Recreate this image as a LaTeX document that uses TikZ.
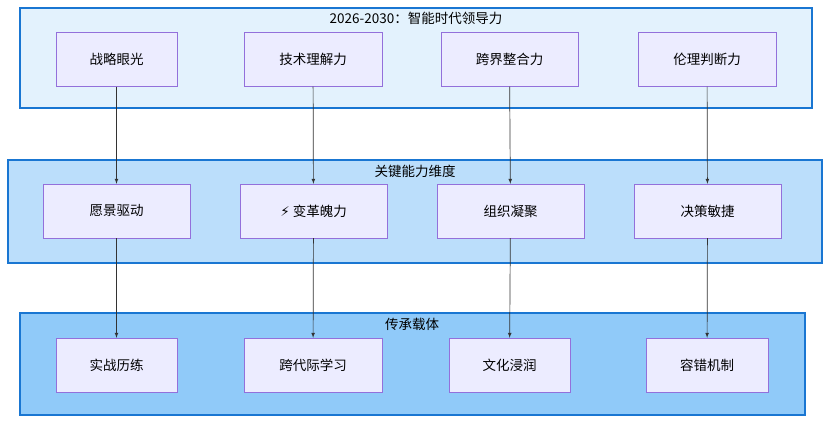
\documentclass[tikz,border=0pt]{standalone}
\usepackage{fontspec}
\setmainfont{Noto Sans CJK SC}
\newfontfamily\symfont{DejaVu Sans}
\usetikzlibrary{positioning}
\definecolor{boxfill}{HTML}{ECECFF}
\definecolor{boxline}{HTML}{9370DB}
\definecolor{grpline}{HTML}{1976D2}
\definecolor{topfill}{HTML}{E3F2FD}
\definecolor{midfill}{HTML}{BBDEFB}
\definecolor{botfill}{HTML}{90CAF9}
\tikzset{
  item/.style={draw=boxline, fill=boxfill, text=black, minimum height=54pt, inner sep=0pt, font=\fontsize{13.5}{13.5}\selectfont},
  group/.style={draw=grpline, line width=1.5pt},
  title/.style={font=\fontsize{13.5}{13.5}\selectfont, text=black},
  link/.style={draw=black!80, line width=0.7pt, -latex}
}
\begin{document}
\begin{tikzpicture}[x=1pt, y=-1pt]
\useasboundingbox (0,0) rectangle (832,428);

% groups
\draw [group, fill=topfill] (20,8) rectangle (812,108);
\node [title] (gtop) at (416,18) {2026-2030：智能时代领导力};
\draw [group, fill=midfill] (8,160) rectangle (822,263);
\node [title] (gmid) at (415,171) {关键能力维度};
\draw [group, fill=botfill] (20,313) rectangle (805,415);
\node [title] (gbot) at (412,324) {传承载体};

% top row
\node [item, minimum width=121pt] (vision) at (116.5,59.5) {战略眼光};
\node [item, minimum width=138pt] (tech) at (313,59.5) {技术理解力};
\node [item, minimum width=137pt] (cross) at (509.5,59.5) {跨界整合力};
\node [item, minimum width=138pt] (ethic) at (707,59.5) {伦理判断力};

% middle row
\node [item, minimum width=147pt] (drive) at (116.5,211) {愿景驱动};
\node [item, minimum width=147pt] (change) at (313.5,211) {{\symfont ⚡} 变革魄力};
\node [item, minimum width=147pt] (unite) at (510.5,211) {组织凝聚};
\node [item, minimum width=147pt] (agile) at (707.5,211) {决策敏捷};

% bottom row
\node [item, minimum width=121pt] (practice) at (116.5,365) {实战历练};
\node [item, minimum width=138pt] (mentor) at (313,365) {跨代际学习};
\node [item, minimum width=121pt] (culture) at (509.5,365) {文化浸润};
\node [item, minimum width=122pt] (tolerance) at (707,365) {容错机制};

% links
\draw [link] (vision) -- (drive);
\draw [link] (tech) -- (change);
\draw [link] (cross) -- (unite);
\draw [link] (ethic) -- (agile);
\draw [link] (drive) -- (practice);
\draw [link] (change) -- (mentor);
\draw [link] (unite) -- (culture);
\draw [link] (agile) -- (tolerance);

\end{tikzpicture}
\end{document}
